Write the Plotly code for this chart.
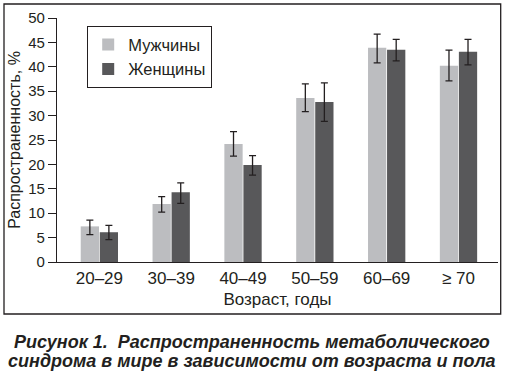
import plotly.graph_objects as go

# ---- data ----
age_groups = ["20–29", "30–39", "40–49", "50–59", "60–69", "≥ 70"]
men = [7.3, 11.9, 24.2, 33.6, 43.9, 40.2]
men_ci_high = [8.6, 13.4, 26.7, 36.5, 46.7, 43.4]
men_ci_low = [5.6, 10.2, 21.7, 30.8, 40.8, 37.1]
women = [6.1, 14.3, 19.9, 32.8, 43.5, 43.1]
women_ci_high = [7.5, 16.2, 21.8, 36.7, 45.6, 45.6]
women_ci_low = [4.6, 12.0, 17.8, 28.8, 41.2, 40.4]
y_ticks = [0, 5, 10, 15, 20, 25, 30, 35, 40, 45, 50]

# ---- layout geometry (pixels) ----
W, H = 506, 373
ML, MR, MT, MB = 57, 8, 18, 111
PW, PH = W - ML - MR, H - MT - MB

def px_x(x):
    return (x - ML) / PW

def px_y(y):
    return (H - MB - y) / PH

TXT = "#231f20"
FONT = "Liberation Sans, Arial, sans-serif"

def err(vals, hi, lo):
    return dict(type="data", symmetric=False,
                array=[h - v for v, h in zip(vals, hi)],
                arrayminus=[v - l for v, l in zip(vals, lo)],
                color=TXT, thickness=1.3, width=3.5)

fig = go.Figure()
fig.add_trace(go.Bar(name="Мужчины", x=age_groups, y=men,
                     marker=dict(color="#bcbdc0", line=dict(width=0)),
                     error_y=err(men, men_ci_high, men_ci_low)))
fig.add_trace(go.Bar(name="Женщины", x=age_groups, y=women,
                     marker=dict(color="#58585a", line=dict(width=0)),
                     error_y=err(women, women_ci_high, women_ci_low)))

fig.update_layout(
    width=W, height=H,
    margin=dict(l=ML, r=MR, t=MT, b=MB, autoexpand=False),
    paper_bgcolor="white", plot_bgcolor="white",
    font=dict(family=FONT, size=16, color=TXT),
    barmode="group", bargap=0.47, bargroupgap=0.04,
    showlegend=True,
    legend=dict(x=px_x(87), y=px_y(26), xanchor="left", yanchor="top",
                bordercolor=TXT, borderwidth=1.2, bgcolor="white",
                font=dict(size=16.5, color=TXT), itemwidth=30,
                tracegroupgap=0),
    xaxis=dict(type="category", range=[-0.59, 5.55],
               showline=True, linecolor=TXT, linewidth=1.2,
               ticks="", showgrid=False, zeroline=False,
               tickfont=dict(size=17, color=TXT),
               title=dict(text="Возраст, годы", font=dict(size=17, color=TXT),
                          standoff=6)),
    yaxis=dict(range=[0, 50], tickvals=y_ticks,
               showline=True, linecolor=TXT, linewidth=1.2,
               ticks="outside", ticklen=8, tickwidth=1.2, tickcolor=TXT,
               showgrid=False, zeroline=False,
               tickfont=dict(size=15, color=TXT),
               title=dict(text="Распространенность, %",
                          font=dict(size=16, color=TXT), standoff=3)),
)

# outer frame
fig.add_shape(type="rect", xref="paper", yref="paper",
              x0=px_x(4), x1=px_x(500.7), y0=px_y(314), y1=px_y(4),
              line=dict(color=TXT, width=1.3), fillcolor="rgba(0,0,0,0)",
              layer="above")

# caption (two lines)
caption_lines = ["Рисунок 1.\u00a0 Распространенность метаболического",
                 "синдрома в мире в зависимости от возраста и пола"]
for line, yc in zip(caption_lines, [342, 361]):
    fig.add_annotation(
        xref="paper", yref="paper", x=px_x(252), y=px_y(yc),
        xanchor="center", yanchor="middle", showarrow=False,
        text=f"<b><i>{line}</i></b>",
        font=dict(family=FONT, size=18, color=TXT),
    )

fig.write_html("out.html",
               config={"displayModeBar": False},
               post_script="document.body.style.margin='0';"
                           "document.body.style.overflow='hidden';")
